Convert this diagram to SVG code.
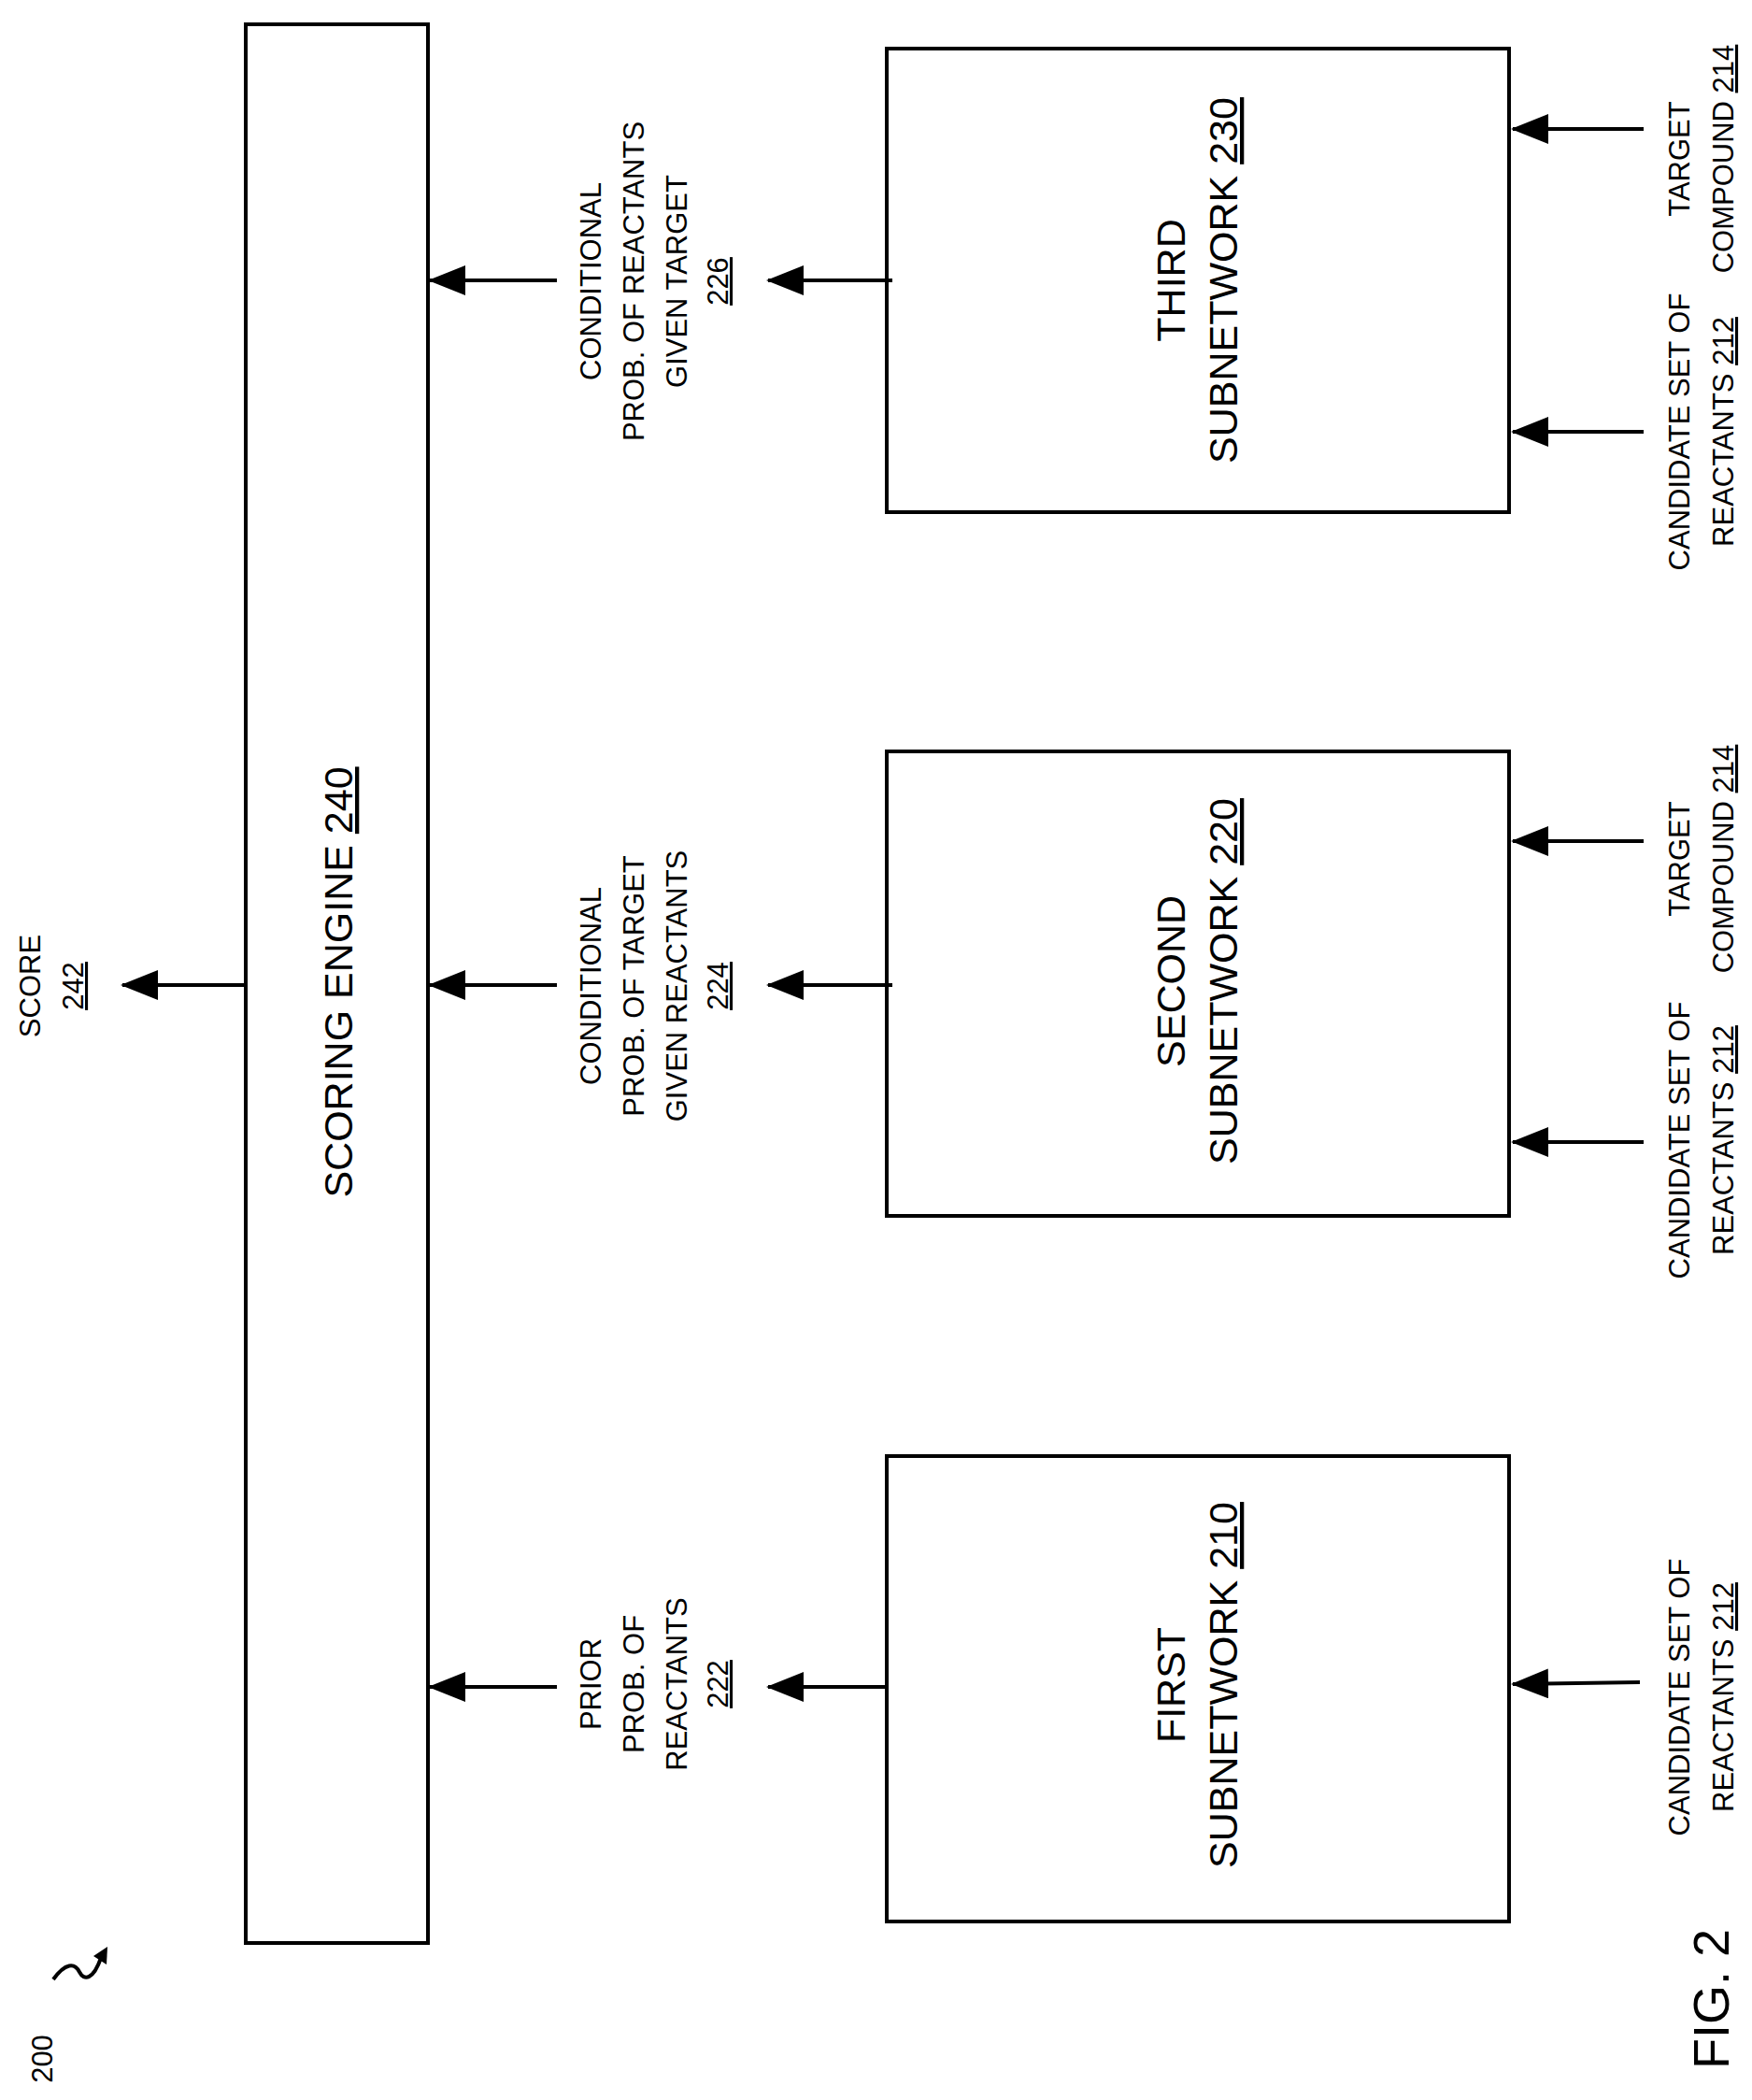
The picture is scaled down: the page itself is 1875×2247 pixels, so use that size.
<svg xmlns="http://www.w3.org/2000/svg" width="1875" height="2247" viewBox="0 0 1875 2247">
<defs>
<style>
.box{fill:#fff;stroke:#000;stroke-width:4}
.t{font-family:"Liberation Sans",Arial,sans-serif;fill:#000;text-anchor:middle}
.big{font-size:43px}
.sm{font-size:31px}
.in{font-size:31px}
.c{stroke:#000;stroke-width:4;fill:none}
.u{text-decoration:underline}
</style>
<marker id="a" markerWidth="40" markerHeight="32" refX="38" refY="16" orient="auto" markerUnits="userSpaceOnUse"><path d="M0,0 L40,16 L0,32 Z" fill="#000"/></marker>
</defs>
<rect width="1875" height="2247" fill="#fff"/>
<g id="scoring"><rect class="box" x="263" y="26" width="195" height="2053"/>
<text class="t big" transform="translate(377,1051) rotate(-90)">SCORING ENGINE <tspan class="u">240</tspan></text></g>
<g id="third"><rect class="box" x="949" y="52" width="666" height="496"/>
<text class="t big" transform="translate(1268,300) rotate(-90)"><tspan x="0">THIRD</tspan><tspan x="0" dy="56">SUBNETWORK <tspan class="u">230</tspan></tspan></text></g>
<g id="second"><rect class="box" x="949" y="804" width="666" height="497"/>
<text class="t big" transform="translate(1268,1050) rotate(-90)"><tspan x="0">SECOND</tspan><tspan x="0" dy="56">SUBNETWORK <tspan class="u">220</tspan></tspan></text></g>
<g id="first"><rect class="box" x="949" y="1558" width="666" height="498"/>
<text class="t big" transform="translate(1268,1803) rotate(-90)"><tspan x="0">FIRST</tspan><tspan x="0" dy="56">SUBNETWORK <tspan class="u">210</tspan></tspan></text></g>
<g id="connectors">
<line class="c" x1="955" y1="300" x2="822" y2="300" marker-end="url(#a)"/>
<line class="c" x1="596" y1="300" x2="460" y2="300" marker-end="url(#a)"/>
<line class="c" x1="955" y1="1054" x2="822" y2="1054" marker-end="url(#a)"/>
<line class="c" x1="596" y1="1054" x2="460" y2="1054" marker-end="url(#a)"/>
<line class="c" x1="949" y1="1805" x2="822" y2="1805" marker-end="url(#a)"/>
<line class="c" x1="596" y1="1805" x2="460" y2="1805" marker-end="url(#a)"/>
<line class="c" x1="263" y1="1054" x2="131" y2="1054" marker-end="url(#a)"/>
<line class="c" x1="1759" y1="138" x2="1619" y2="138" marker-end="url(#a)"/>
<line class="c" x1="1759" y1="462" x2="1619" y2="462" marker-end="url(#a)"/>
<line class="c" x1="1759" y1="900" x2="1619" y2="900" marker-end="url(#a)"/>
<line class="c" x1="1759" y1="1222" x2="1619" y2="1222" marker-end="url(#a)"/>
<line class="c" x1="1755" y1="1800" x2="1619" y2="1802" marker-end="url(#a)"/>
<path class="c" stroke-width="3" d="M57,2118 C70,2100 80,2100 85,2110 C90,2120 100,2118 108,2095"/>
<path d="M100,2093 L115,2083 L114,2102 Z" fill="#000"/>
</g>
<g id="labels" class="t sm">
<text transform="translate(43,1055) rotate(-90)"><tspan x="0">SCORE</tspan><tspan x="0" dy="46" class="u">242</tspan></text>
<text transform="translate(643,301) rotate(-90)"><tspan x="0">CONDITIONAL</tspan><tspan x="0" dy="46">PROB. OF REACTANTS</tspan><tspan x="0" dy="46">GIVEN TARGET</tspan><tspan x="0" dy="44" class="u">226</tspan></text>
<text transform="translate(643,1055) rotate(-90)"><tspan x="0">CONDITIONAL</tspan><tspan x="0" dy="46">PROB. OF TARGET</tspan><tspan x="0" dy="46">GIVEN REACTANTS</tspan><tspan x="0" dy="44" class="u">224</tspan></text>
<text transform="translate(643,1802) rotate(-90)"><tspan x="0">PRIOR</tspan><tspan x="0" dy="46">PROB. OF</tspan><tspan x="0" dy="46">REACTANTS</tspan><tspan x="0" dy="44" class="u">222</tspan></text>
<g class="in">
<text transform="translate(1808,170) rotate(-90)"><tspan x="0">TARGET</tspan><tspan x="0" dy="47">COMPOUND <tspan class="u">214</tspan></tspan></text>
<text transform="translate(1808,919) rotate(-90)"><tspan x="0">TARGET</tspan><tspan x="0" dy="47">COMPOUND <tspan class="u">214</tspan></tspan></text>
<text transform="translate(1808,462) rotate(-90)"><tspan x="0">CANDIDATE SET OF</tspan><tspan x="0" dy="47">REACTANTS <tspan class="u">212</tspan></tspan></text>
<text transform="translate(1808,1220) rotate(-90)"><tspan x="0">CANDIDATE SET OF</tspan><tspan x="0" dy="47">REACTANTS <tspan class="u">212</tspan></tspan></text>
<text transform="translate(1808,1816) rotate(-90)"><tspan x="0">CANDIDATE SET OF</tspan><tspan x="0" dy="47">REACTANTS <tspan class="u">212</tspan></tspan></text>
</g>
<text transform="translate(56,2203) rotate(-90)">200</text>
<text transform="translate(1850,2139) rotate(-90)" style="font-size:54px">FIG. 2</text>
</g>
</svg>
